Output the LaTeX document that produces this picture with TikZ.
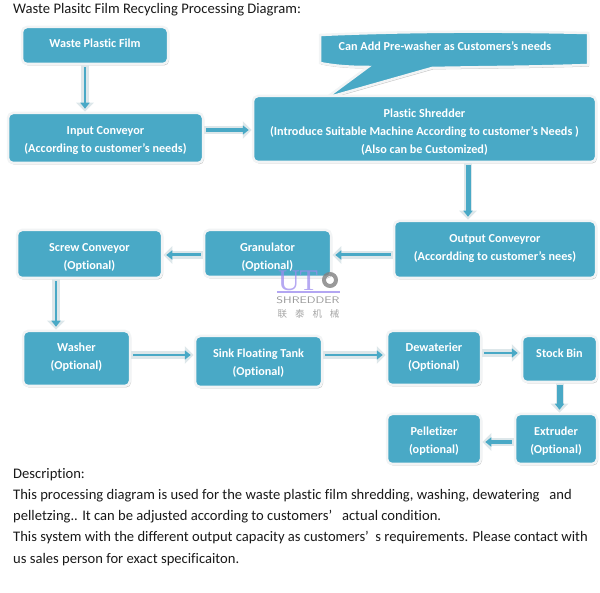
\documentclass[tikz,border=0pt]{standalone}
\usepackage{fontspec}
\setmainfont{Carlito}[Ligatures=NoCommon]
\newfontfamily\cjkfont{Noto Sans CJK SC}
\newfontfamily\logofont{Liberation Serif}
\usetikzlibrary{arrows.meta,shadows}
\definecolor{boxteal}{HTML}{49A9C6}
\definecolor{paleedge}{HTML}{F2F4F5}
\definecolor{palearrow}{HTML}{DDE7EA}
\newcommand{\lowered}[1]{\rule{0pt}{\dimexpr 10pt+2\dimexpr #1\relax\relax}}
\tikzset{
	boxshadow/.style={drop shadow={shadow xshift=1pt, shadow yshift=-1.5pt, fill=black!40, opacity=0.6}},
	procbox/.style={draw=paleedge, line width=2.5pt, fill=boxteal, rounded corners=5pt, text=white, align=center, inner sep=0pt,
		font=\fontsize{12.2}{18}\selectfont\bfseries, boxshadow},
	flow/.style={draw=boxteal, line width=#1, -{Triangle[length=6pt,width=9pt]}, shorten <=2pt, shorten >=3pt,
		preaction={draw=palearrow, line width=8pt, -{Triangle[length=9pt,width=17pt]}, shorten <=0pt, shorten >=0pt}},
	flow/.default=2.5pt,
	caption/.style={anchor=west, inner sep=0pt, font=\fontsize{14.6}{17}\selectfont, text=black!90}
}
\begin{document}
\begin{tikzpicture}[x=1pt, y=-1pt]
	\useasboundingbox (0,0) rectangle (600,593);

	\node[caption] (title) at (13,10) {Waste Plasitc Film Recycling Processing Diagram:};

	\draw[draw=paleedge, line width=2.5pt, fill=boxteal, boxshadow]
		(320,35) .. controls (410,31) and (500,31) .. (588,33) -- (588,65) .. controls (530,67) and (480,67) .. (432,68) -- (326,98) -- (368,67) .. controls (350,67) and (335,66) .. (320,63) -- cycle;
	\node[text=white, font=\fontsize{12.2}{18}\selectfont\bfseries] (prewasher) at (445,46) {Can Add Pre-washer as Customers's needs};

	\node[procbox, minimum width=146, minimum height=37] (wastefilm) at (95,45.5) {Waste Plastic Film\\[-13pt]};
	\node[procbox, minimum width=195, minimum height=50] (input) at (105.5,138) {\lowered{2pt}Input Conveyor\\(According to customer's needs)};
	\node[procbox, minimum width=343, minimum height=66] (shredder) at (424.5,129) {\lowered{2pt}Plastic Shredder\\(Introduce Suitable Machine According to customer's Needs )\\(Also can be Customized)};
	\node[procbox, minimum width=202, minimum height=57] (output) at (495,249.5) {Output Conveyror\\(Accordding to customer's nees)\\[-15pt]};
	\node[procbox, minimum width=127, minimum height=47] (granulator) at (267.5,253.5) {\lowered{3pt}Granulator\\(Optional)};
	\node[procbox, minimum width=145, minimum height=48] (screw) at (89.5,254) {\lowered{2pt}Screw Conveyor\\(Optional)};
	\node[procbox, minimum width=107, minimum height=55] (washer) at (76.5,358.5) {Washer\\(Optional)\\[-14pt]};
	\node[procbox, minimum width=127, minimum height=51] (sink) at (258.5,361.5) {\lowered{1pt}Sink Floating Tank\\(Optional)};
	\node[procbox, minimum width=94, minimum height=54] (dewaterier) at (434,358) {Dewaterier\\(Optional)\\[-14pt]};
	\node[procbox, minimum width=75, minimum height=46] (stock) at (559.5,359) {Stock Bin\\[-6pt]};
	\node[procbox, minimum width=82, minimum height=50] (extruder) at (556,439) {\lowered{1pt}Extruder\\(Optional)};
	\node[procbox, minimum width=94, minimum height=50] (pelletizer) at (434,439) {\lowered{1pt}Pelletizer\\(optional)};

	\draw[flow] ([xshift=-10pt]wastefilm.south) -- ([xshift=-20.5pt]input.north);
	\draw[flow=4pt] ([yshift=8pt]input.east) -- ([yshift=-1pt]shredder.west);
	\draw[flow=5pt] ([xshift=43.5pt]shredder.south) -- ([xshift=-27pt]output.north);
	\draw[flow=3pt] ([yshift=-5.5pt]output.west) -- ([yshift=-1.5pt]granulator.east);
	\draw[flow=3pt] ([yshift=-1.5pt]granulator.west) -- ([yshift=-1pt]screw.east);
	\draw[flow=2.5pt] ([xshift=-33.5pt]screw.south) -- ([xshift=-20.5pt]washer.north);
	\draw[flow] ([yshift=3.5pt]washer.east) -- ([yshift=6.5pt]sink.west);
	\draw[flow] ([yshift=6.5pt]sink.east) -- ([yshift=3pt]dewaterier.west);
	\draw[flow] ([yshift=5pt]dewaterier.east) -- ([yshift=6pt]stock.west);
	\draw[flow=6pt] (stock.south) -- ([xshift=3.5pt]extruder.north);
	\draw[flow=4pt] ([yshift=-3pt]extruder.west) -- ([yshift=-3pt]pelletizer.east);

	\node[inner sep=0pt, font=\fontsize{30}{30}\selectfont\logofont, text=violet!30!blue!45, opacity=0.75] (logout) at (298,281) {UT};
	\draw[line width=4pt, black!50, opacity=0.8] (330,280) circle (6pt);
	\draw[violet!30!blue!35, line width=1.2pt] (277,292) -- (340,292);
	\node[inner sep=0pt, xscale=1.28, font=\fontsize{9.5}{10}\selectfont\sffamily, text=black!40] (logoshredder) at (308,300) {SHREDDER};
	\node[inner sep=0pt, font=\fontsize{9.5}{10}\selectfont\cjkfont, text=black!35] (logocn) at (308.5,314) {联\hspace{8pt}泰\hspace{8pt}机\hspace{8pt}械};

	\node[caption] (desca) at (13,475) {Description:};
	\node[caption] (descb) at (13,496) {This processing diagram is used for the waste plastic film shredding, washing, dewatering \ \ and};
	\node[caption] (descc) at (13,517) {pelletzing.. It can be adjusted according to customers' \ \ actual condition.};
	\node[caption] (descd) at (13,538) {This system with the different output capacity as customers' \ s requirements. Please contact with};
	\node[caption] (desce) at (13,560) {us sales person for exact specificaiton.};
\end{tikzpicture}
\end{document}
